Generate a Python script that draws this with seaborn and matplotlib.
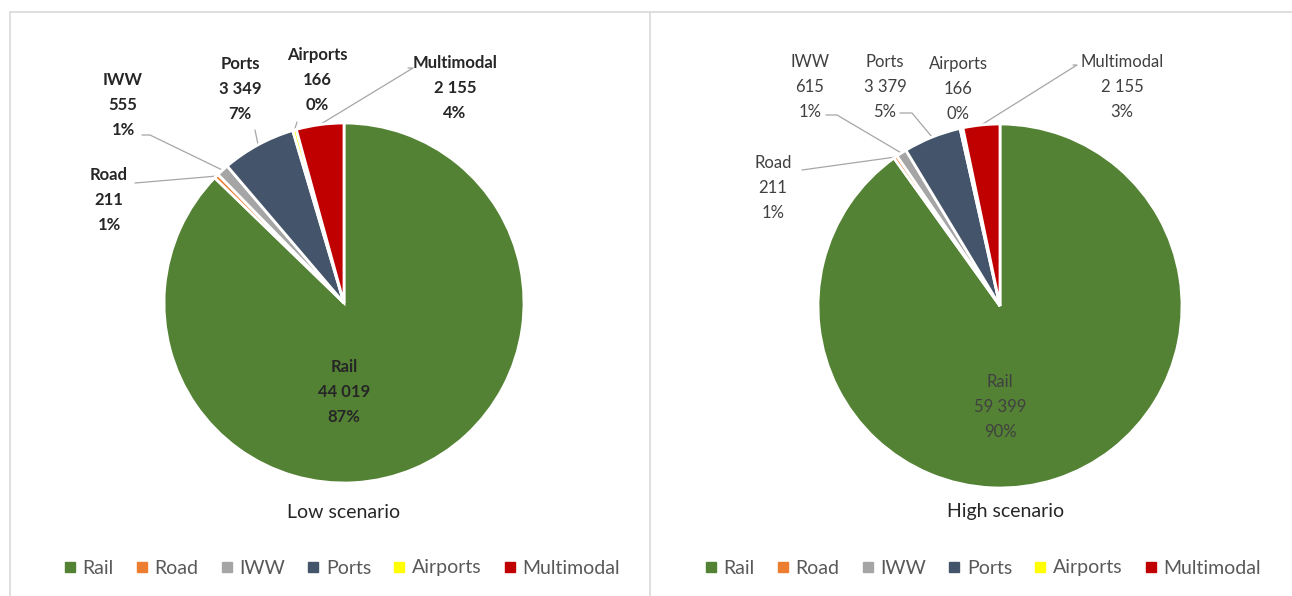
import matplotlib
matplotlib.use("Agg")
import numpy as np
import seaborn as sns
import matplotlib.pyplot as plt
from matplotlib.lines import Line2D

# data
categories = ["Rail", "Road", "IWW", "Ports", "Airports", "Multimodal"]
low_values = [44019, 211, 555, 3349, 166, 2155]
high_values = [59399, 211, 615, 3379, 166, 2155]
low_pct = ["87%", "1%", "1%", "7%", "0%", "4%"]
high_pct = ["90%", "1%", "1%", "5%", "0%", "3%"]
titles = ["Low scenario", "High scenario"]

colors = ["#548235", "#ED7D31", "#A5A5A5", "#44546A", "#FFFF00", "#C00000"]

sns.set_theme(style="white", palette=colors)
plt.rcParams["font.family"] = ["Lato", "DejaVu Sans"]

W, H = 1292, 596
fig = plt.figure(figsize=(W / 100, H / 100), dpi=100)

# layout in pixels: label centres / leader starts relative to the pie centre (x right, y up)
low_layout = {
    "center": (344, 303), "R": 180, "box": (10, 650),
    "labels": [(0, -89), (-235, 103), (-221, 198), (-104, 214), (-27, 223), (111, 215)],
    "leaders": [None, ((-209, 120), 0), ((-202, 168), 8), ((-89, 173), 0),
                ((-47, 181), 0), ((64, 235), 5)],
    "title": (0, -209), "legend": (-2, -265),
    "bold": True, "color": "#262626",
}
high_layout = {
    "center": (1000, 306), "R": 182, "box": (650, 1292),
    "labels": [(0, -101), (-227, 118), (-190, 219), (-115, 219), (-42, 217), (122, 219)],
    "leaders": [None, ((-198, 136), 0), ((-174, 191), 11), ((-100, 193), 12),
                None, ((73, 241), 4)],
    "title": (6, -206), "legend": (-17, -262),
    "bold": False, "color": "#404040",
}


def draw_panel(values, pct, title, lay):
    cx, cy = lay["center"]
    R = lay["R"]
    x0, x1 = lay["box"]
    ax = fig.add_axes([x0 / W, 0, (x1 - x0) / W, (H - 12) / H])
    wedges, _ = ax.pie(values, colors=colors, startangle=90, counterclock=False,
                       wedgeprops=dict(edgecolor="white", linewidth=2))
    ax.set_xlim((x0 - cx) / R, (x1 - cx) / R)
    ax.set_ylim((cy - H) / R, (cy - 12) / R)
    ax.set_aspect("auto")
    ax.axis("off")

    weight = "bold" if lay["bold"] else "normal"
    for i, cat in enumerate(categories):
        txt = f"{cat}\n{values[i]:,}\n{pct[i]}".replace(",", " ")
        lx, ly = lay["labels"][i]
        ax.text(lx / R, ly / R, txt, ha="center", va="center", fontsize=12,
                fontweight=weight, color=lay["color"], linespacing=1.68)
        lead = lay["leaders"][i]
        if lead is None:
            continue
        (sx, sy), stub = lead
        mid = np.deg2rad((wedges[i].theta1 + wedges[i].theta2) / 2)
        ex, ey = np.cos(mid), np.sin(mid)
        xs = [sx / R, (sx + stub) / R, ex]
        ys = [sy / R, sy / R, ey]
        ax.plot(xs, ys, color="#A6A6A6", linewidth=0.9, zorder=0)

    tx, ty = lay["title"]
    ax.text(tx / R, ty / R, title, ha="center", va="center", fontsize=14, color="#262626")

    handles = [Line2D([], [], marker="s", linestyle="none", markersize=7,
                      markerfacecolor=c, markeredgecolor=c) for c in colors]
    gx, gy = lay["legend"]
    ax.legend(handles, categories, loc="center", bbox_to_anchor=(gx / R, gy / R),
              bbox_transform=ax.transData, ncol=6, frameon=False, fontsize=14,
              handlelength=0.6, handletextpad=0.35, columnspacing=1.15,
              labelcolor="#595959")


draw_panel(low_values, low_pct, titles[0], low_layout)
draw_panel(high_values, high_pct, titles[1], high_layout)

# thin chart borders
border = "#D9D9D9"
fig.add_artist(Line2D([10 / W, 1], [1 - 12 / H, 1 - 12 / H], color=border, linewidth=1.2))
fig.add_artist(Line2D([10 / W, 10 / W], [0, 1 - 12 / H], color=border, linewidth=1.2))
fig.add_artist(Line2D([650 / W, 650 / W], [0, 1 - 12 / H], color=border, linewidth=1.2))

fig.savefig("out.png", dpi=100)
